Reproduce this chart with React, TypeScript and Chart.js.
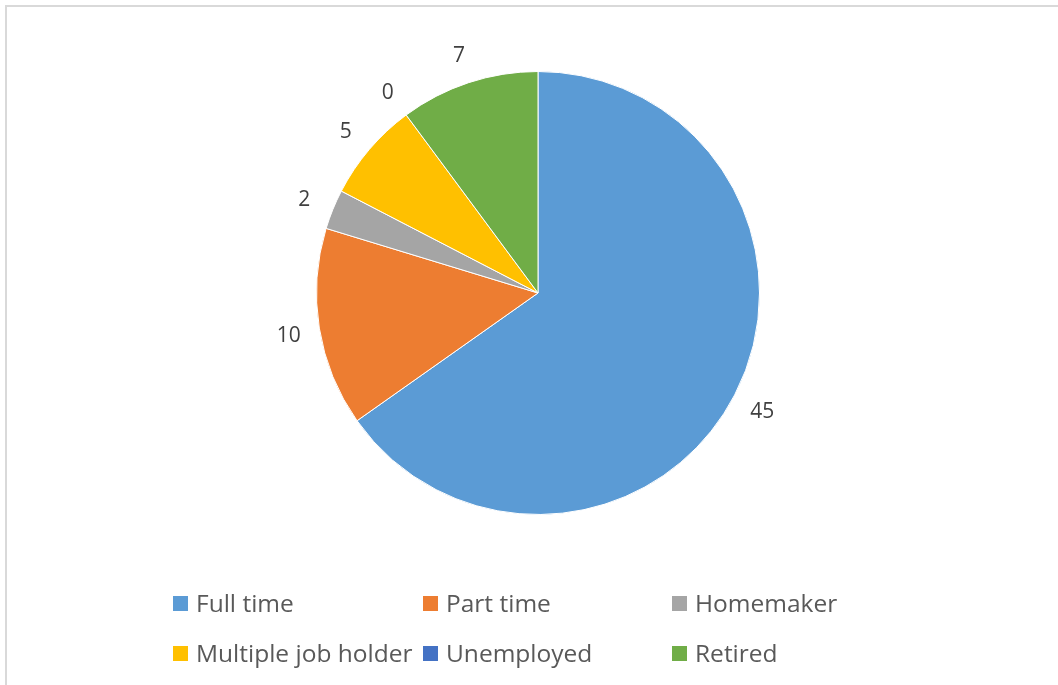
import React, { useEffect, useRef } from "react";
import { Chart, registerables } from "chart.js";

Chart.register(...registerables);

const categories = ["Full time", "Part time", "Homemaker", "Multiple job holder", "Unemployed", "Retired"];
const counts = [45, 10, 2, 5, 0, 7];
const sliceColors = ["#5B9BD5", "#ED7D31", "#A5A5A5", "#FFC000", "#4472C4", "#70AD47"];

const W = 1058;
const H = 685;

const labelPlugin = {
  id: "outsideLabels",
  afterDatasetsDraw(chart: any) {
    const ctx = chart.ctx;
    const meta = chart.getDatasetMeta(0);
    ctx.save();
    ctx.font = '21px "Open Sans", sans-serif';
    ctx.fillStyle = "#404040";
    ctx.textAlign = "center";
    ctx.textBaseline = "middle";
    meta.data.forEach((arc: any, i: number) => {
      const p = arc.getProps(["x", "y", "startAngle", "endAngle", "outerRadius"], true);
      const mid = (p.startAngle + p.endAngle) / 2;
      const d = p.outerRadius + 31;
      const x = p.x + Math.cos(mid) * d;
      const y = p.y + Math.sin(mid) * d;
      ctx.fillText(String(chart.data.datasets[0].data[i]), x, y + 2.5);
    });
    ctx.restore();
  },
};

const legendPlugin = {
  id: "gridLegend",
  afterDraw(chart: any) {
    const ctx = chart.ctx;
    const colX = [173, 423, 672];
    const rowY = [604, 654];
    const labels = chart.data.labels as string[];
    const colors = chart.data.datasets[0].backgroundColor as string[];
    ctx.save();
    ctx.font = '24.5px "Open Sans", sans-serif';
    ctx.textBaseline = "middle";
    ctx.textAlign = "left";
    labels.forEach((lab, i) => {
      const cx = colX[i % 3];
      const cy = rowY[Math.floor(i / 3)];
      ctx.fillStyle = colors[i];
      ctx.fillRect(cx, cy - 8, 15, 15);
      ctx.fillStyle = "#595959";
      ctx.fillText(lab, cx + 23, cy + 1);
    });
    ctx.restore();
  },
};

export default function App() {
  const ref = useRef<HTMLCanvasElement | null>(null);
  useEffect(() => {
    if (!ref.current) return;
    const chart = new Chart(ref.current, {
      type: "pie",
      data: {
        labels: categories,
        datasets: [
          {
            data: counts,
            backgroundColor: sliceColors,
            borderColor: "#ffffff",
            borderWidth: 1,
          },
        ],
      },
      options: {
        responsive: false,
        animation: false,
        layout: { padding: { top: 71, bottom: 170, left: 316, right: 298 } },
        plugins: {
          legend: { display: false },
          tooltip: { enabled: false },
        },
      },
      plugins: [labelPlugin, legendPlugin],
    });
    return () => chart.destroy();
  }, []);

  return (
    <div style={{ position: "fixed", left: 0, top: 0, width: W, height: H, background: "#ffffff", overflow: "hidden" }}>
      <div
        style={{
          position: "absolute",
          left: 5,
          top: 5,
          width: W + 20,
          height: H + 20,
          borderLeft: "2px solid #d9d9d9",
          borderTop: "2px solid #d9d9d9",
          boxSizing: "border-box",
        }}
      />
      <canvas ref={ref} width={W} height={H} style={{ position: "absolute", left: 0, top: 0, width: W, height: H }} />
    </div>
  );
}
